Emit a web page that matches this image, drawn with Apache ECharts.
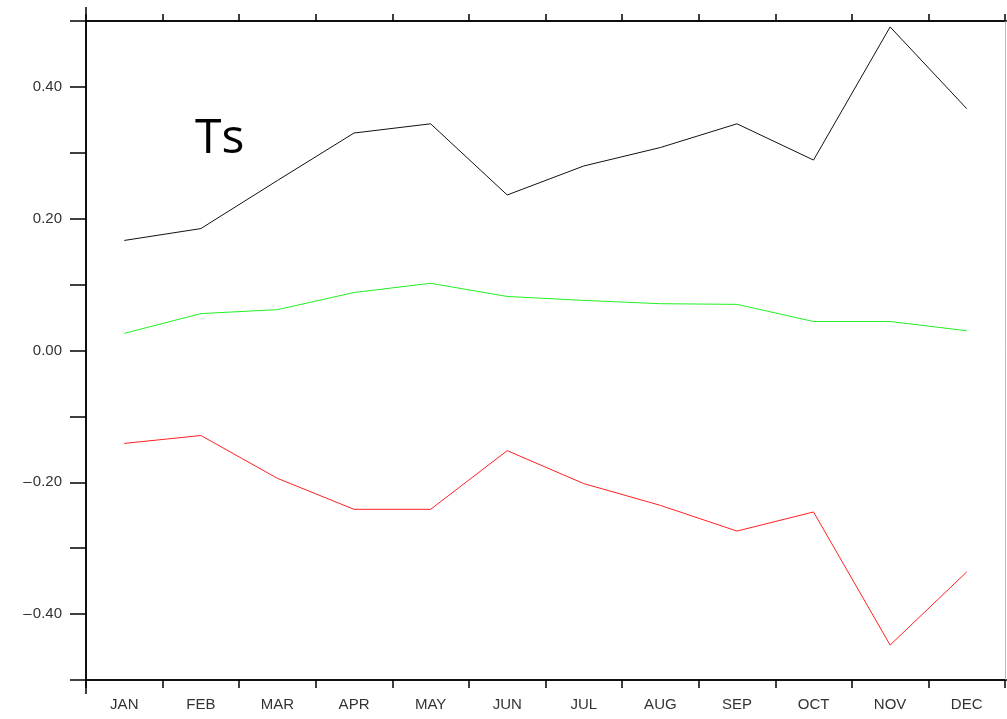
<!DOCTYPE html>
<html>
<head>
<meta charset="utf-8">
<script src="https://cdn.jsdelivr.net/npm/echarts@6/dist/echarts.min.js"></script>
<style>
  html, body { margin: 0; padding: 0; background: #fff; }
  #chart { width: 1007px; height: 719px; }
</style>
</head>
<body>
<div id="chart"></div>
<script>
const months = ['JAN', 'FEB', 'MAR', 'APR', 'MAY', 'JUN', 'JUL', 'AUG', 'SEP', 'OCT', 'NOV', 'DEC']
const tsBlack = [0.167, 0.185, 0.258, 0.330, 0.344, 0.236, 0.280, 0.308, 0.344, 0.289, 0.491, 0.367]
const tsGreen = [0.026, 0.056, 0.062, 0.088, 0.102, 0.082, 0.076, 0.071, 0.070, 0.044, 0.044, 0.030]
const tsRed = [-0.141, -0.129, -0.194, -0.241, -0.241, -0.152, -0.202, -0.235, -0.274, -0.245, -0.447, -0.336]
const yLabelled = [-0.4, -0.2, 0, 0.2, 0.4]

const chart = echarts.init(document.getElementById('chart'))

const labelFont = { color: '#333', fontSize: 15, fontFamily: 'Liberation Sans, Arial, sans-serif' }
const fmtY = (v) => {
  const hit = yLabelled.some((t) => Math.abs(t - v) < 1e-6)
  if (!hit) return ''
  const s = Math.abs(v).toFixed(2)
  // NCL draws a long minus sign
  return v < -1e-6 ? '\u2013\u200a' + s : s
}

const grid = { left: 86, right: 2, top: 21, bottom: 39 }

chart.setOption({
  animation: false,
  title: {
    text: 'Ts',
    left: 190,
    top: 110,
    textStyle: { fontSize: 48, fontWeight: 'normal', color: '#000', fontFamily: 'Open Sans, sans-serif' },
  },
  grid,
  xAxis: [
    {
      type: 'category',
      data: months,
      boundaryGap: true,
      position: 'bottom',
      axisLine: { onZero: false, lineStyle: { color: '#000', width: 1.5 } },
      axisTick: { show: true, length: 8, inside: false, lineStyle: { color: '#000', width: 1.5 } },
      axisLabel: { ...labelFont, margin: 17 },
      splitLine: { show: false },
    },
    {
      type: 'category',
      data: months,
      boundaryGap: true,
      position: 'top',
      axisLine: { onZero: false, lineStyle: { color: '#000', width: 1.5 } },
      axisTick: { show: true, length: 7, lineStyle: { color: '#000', width: 1.5 } },
      axisLabel: { show: false },
      splitLine: { show: false },
    },
  ],
  yAxis: [
    {
      type: 'value',
      min: -0.5,
      max: 0.5,
      interval: 0.1,
      position: 'left',
      axisLine: { show: true, onZero: false, lineStyle: { color: '#000', width: 1.5 } },
      axisTick: { show: true, length: 16, lineStyle: { color: '#000', width: 1.5 } },
      axisLabel: { ...labelFont, margin: 24, formatter: fmtY, showMinLabel: false, showMaxLabel: false },
      splitLine: { show: false },
    },
    {
      type: 'value',
      min: -0.5,
      max: 0.5,
      interval: 0.1,
      position: 'right',
      axisLine: { show: true, onZero: false, lineStyle: { color: '#bbb', width: 1 } },
      axisTick: { show: false },
      axisLabel: { show: false },
      splitLine: { show: false },
    },
  ],
  series: [
    { name: 'black', type: 'line', data: tsBlack, symbol: 'none', lineStyle: { color: '#111', width: 1 } },
    { name: 'green', type: 'line', data: tsGreen, symbol: 'none', lineStyle: { color: '#22ee22', width: 1 } },
    { name: 'red', type: 'line', data: tsRed, symbol: 'none', lineStyle: { color: '#ff2020', width: 1 } },
  ],
})

// axis lines in the original overshoot the plot frame by the tick length
const w = chart.getWidth()
const h = chart.getHeight()
const x0 = grid.left
const y0 = grid.top
const y1 = h - grid.bottom
const line = (x1, y1_, x2, y2) => ({
  type: 'line',
  shape: { x1, y1: y1_, x2, y2 },
  style: { stroke: '#000', lineWidth: 1.5 },
  silent: true,
})
chart.setOption({
  graphic: [
    line(x0, y0 - 14, x0, y1 + 14),
    line(x0 - 16, y0, w, y0),
    line(x0 - 16, y1, w, y1),
  ],
})
</script>
</body>
</html>
